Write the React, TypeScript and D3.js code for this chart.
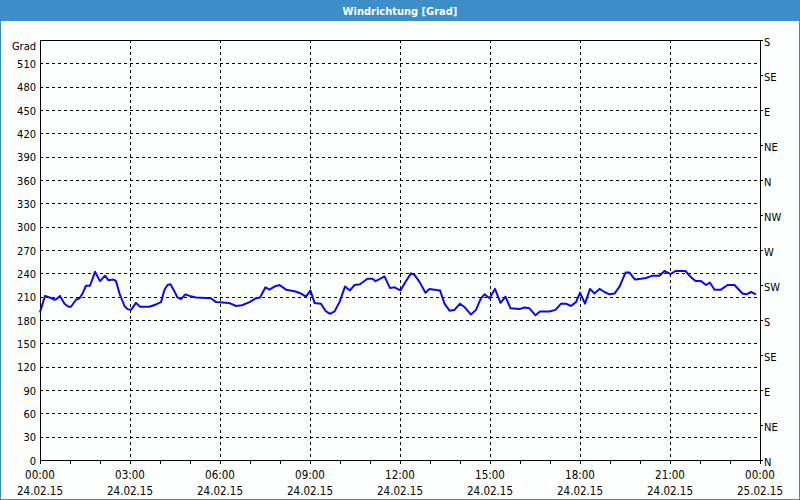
import * as d3 from "d3";

// minutes since 24.02.15 00:00, wind direction in degrees
const minutes = [
  0, 10, 19, 29, 33, 40, 49, 57, 62, 72, 79, 85, 92, 100, 104, 110, 120, 130, 137, 147,
  152, 159, 169, 175, 182, 192, 200, 219, 232, 242, 249, 255, 261, 267, 275, 282, 291, 299,
  312, 342, 352, 378, 392, 404, 419, 432, 440, 451, 459, 469, 479, 492, 509, 522, 532, 541,
  549, 562, 572, 580, 589, 599, 610, 620, 629, 640, 655, 665, 671, 680, 689, 700, 709, 721,
  732, 742, 749, 759, 771, 779, 789, 800, 809, 819, 829, 840, 850, 862, 872, 882, 889, 899,
  910, 921, 931, 941, 959, 969, 979, 991, 1000, 1019, 1031, 1042, 1052, 1062, 1072, 1080,
  1090, 1100, 1109, 1119, 1129, 1139, 1149, 1159, 1171, 1179, 1190, 1202, 1212, 1225, 1239,
  1249, 1261, 1271, 1284, 1291, 1302, 1311, 1322, 1332, 1340, 1349, 1362, 1375, 1389, 1405,
  1413, 1422, 1432,
];
const degrees = [
  190, 211, 209, 206, 207, 211, 201, 197, 197, 206, 208, 214, 224, 224, 231, 242, 230, 237, 231, 232,
  230, 214, 198, 194, 193, 202, 197, 197, 200, 203, 219, 225, 226, 219, 209, 207, 213, 211,
  209, 208, 203, 202, 198, 199, 203, 208, 209, 222, 219, 223, 225, 219, 217, 214, 210, 218,
  202, 201, 191, 188, 191, 203, 223, 218, 225, 226, 233, 233, 230, 233, 236, 221, 222, 218,
  230, 240, 238, 229, 215, 220, 219, 218, 201, 192, 193, 201, 196, 187, 193, 208, 213, 208,
  220, 202, 210, 195, 194, 196, 195, 186, 191, 191, 193, 201, 201, 198, 203, 215,
  201, 220, 214, 220, 216, 213, 214, 223, 241, 241, 232, 233, 234, 237, 237,
  243, 239, 243, 243, 243, 235, 230, 230, 225, 228, 219, 219, 225, 225, 214,
  213, 216, 213,
];

const yTicks = [0, 30, 60, 90, 120, 150, 180, 210, 240, 270, 300, 330, 360, 390, 420, 450, 480, 510];
const compassLabels = ["N", "NE", "E", "SE", "S", "SW", "W", "NW", "N", "NE", "E", "SE", "S"];
const compassStep = 45;
const xTickHours = [0, 3, 6, 9, 12, 15, 18, 21, 24];

const W = 800;
const H = 500;
const margin = { top: 40, right: 40, bottom: 40, left: 40 };
const FONT = "Tahoma, 'DejaVu Sans Condensed', 'Liberation Sans', sans-serif";

export default function App() {
  const start = new Date(2015, 1, 24, 0, 0);
  const end = new Date(2015, 1, 25, 0, 0);
  const x = d3.scaleTime().domain([start, end]).range([margin.left, W - margin.right]);
  const y = d3.scaleLinear().domain([0, 540]).range([H - margin.bottom, margin.top]);

  const points = minutes.map((m, i) => ({
    t: new Date(start.getTime() + m * 60000),
    v: degrees[i],
  }));
  const line = d3
    .line<{ t: Date; v: number }>()
    .x((d) => x(d.t))
    .y((d) => y(d.v));

  const hourTicks = d3.timeHour.range(start, d3.timeHour.offset(end, 1));
  const majorTicks = xTickHours.map((h) => d3.timeHour.offset(start, h));
  const fmtTime = d3.timeFormat("%H:%M");
  const fmtDate = d3.timeFormat("%d.%m.%y");

  const x0 = x.range()[0];
  const x1 = x.range()[1];
  const y0 = y.range()[0];
  const y1 = y.range()[1];

  return (
    <div style={{ position: "fixed", left: 0, top: 0 }}>
      <svg width={W} height={H} style={{ display: "block", fontFamily: FONT }}>
        <rect x={0} y={0} width={W} height={H} fill="#fcfffd" />
        <rect x={0.5} y={0.5} width={W - 1} height={H - 1} fill="none" stroke="#3b8ec8" />
        <rect x={0} y={0} width={W} height={21} fill="#3b8ec8" />
        <text x={W / 2} y={14.5} textAnchor="middle" fill="#fff" fontWeight="bold" fontSize={11}>
          Windrichtung [Grad]
        </text>

        {/* horizontal grid */}
        {yTicks
          .filter((t) => t > 0)
          .map((t) => (
            <line
              key={"gy" + t}
              x1={x0}
              x2={x1}
              y1={Math.round(y(t)) + 0.5}
              y2={Math.round(y(t)) + 0.5}
              stroke="#000"
              strokeDasharray="3,3"
            />
          ))}
        {/* vertical grid */}
        {majorTicks.slice(1, -1).map((t) => (
          <line
            key={"gx" + t.getTime()}
            x1={Math.round(x(t)) + 0.5}
            x2={Math.round(x(t)) + 0.5}
            y1={y1}
            y2={y0}
            stroke="#000"
            strokeDasharray="3,3"
          />
        ))}

        {/* frame */}
        <rect x={x0 + 0.5} y={y1 + 0.5} width={x1 - x0} height={y0 - y1} fill="none" stroke="#000" />

        {/* y labels left */}
        <text x={36} y={47} textAnchor="end" dominantBaseline="middle" fontSize={11} fill="#000">
          Grad
        </text>
        {yTicks.map((t) => (
          <text
            key={"ly" + t}
            x={36}
            y={y(t) + 1.5}
            textAnchor="end"
            dominantBaseline="middle"
            fontSize={11}
            fill="#000"
          >
            {t}
          </text>
        ))}

        {/* compass labels right */}
        {compassLabels.map((c, i) => (
          <g key={"c" + i}>
            <line
              x1={x1}
              x2={x1 + 3}
              y1={Math.round(y(i * compassStep)) + 0.5}
              y2={Math.round(y(i * compassStep)) + 0.5}
              stroke="#000"
            />
            <text
              x={x1 + 4}
              y={y(i * compassStep) + 3}
              dominantBaseline="middle"
              fontSize={11}
              fill="#000"
            >
              {c}
            </text>
          </g>
        ))}

        {/* x ticks */}
        {hourTicks.map((t) => (
          <line
            key={"tx" + t.getTime()}
            x1={Math.round(x(t)) + 0.5}
            x2={Math.round(x(t)) + 0.5}
            y1={y0}
            y2={y0 + 4}
            stroke="#000"
          />
        ))}
        {majorTicks.map((t) => (
          <g key={"lx" + t.getTime()}>
            <text x={x(t)} y={479} textAnchor="middle" fontSize={11.5} fill="#000">
              {fmtTime(t)}
            </text>
            <text x={x(t)} y={495} textAnchor="middle" fontSize={11.5} fill="#000">
              {fmtDate(t)}
            </text>
          </g>
        ))}

        <path d={line(points) ?? ""} fill="none" stroke="#0a0aee" strokeWidth={2} strokeLinejoin="round" />
      </svg>
    </div>
  );
}
